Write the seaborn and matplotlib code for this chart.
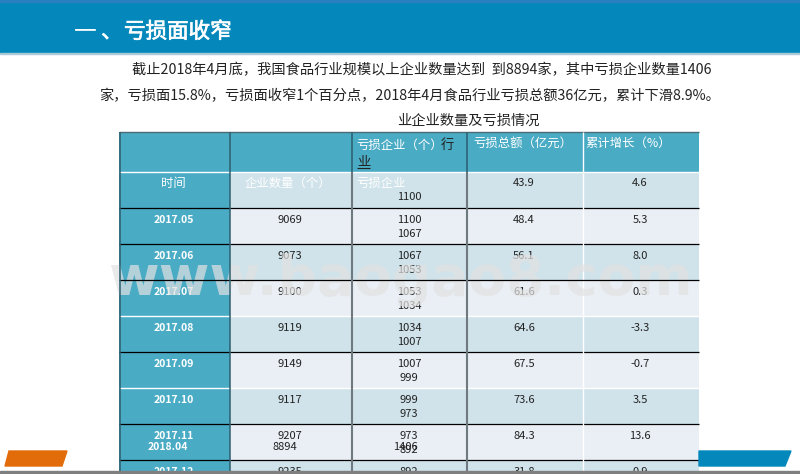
import numpy as np
import matplotlib.pyplot as plt
import matplotlib.patheffects as pe
from matplotlib.colors import ListedColormap
from matplotlib.patches import Polygon, Rectangle
import seaborn as sns

months = ['2017.05', '2017.06', '2017.07', '2017.08', '2017.09', '2017.10', '2017.11', '2017.12']
firms = ['9069', '9073', '9100', '9119', '9149', '9117', '9207', '9235']
loss_firms_a = ['1100', '1067', '1053', '1034', '1007', '999', '973', '892']
loss_firms_b = ['1067', '1053', '1034', '1007', '999', '973', '892', '']
loss_total = ['48.4', '56.1', '61.6', '64.6', '67.5', '73.6', '84.3', '31.8']
growth = ['5.3', '8.0', '0.3', '-3.3', '-0.7', '3.5', '13.6', '0.9']

headers = ['时间', '企业数量（个）', '亏损企业']
headers_top = ['亏损总额（亿元）', '累计增长（%）']
first_row = ['1100', '43.9', '4.6']
apr_row = ['2018.04', '8894', '1406']

para1 = '截止2018年4月底，我国食品行业规模以上企业数量达到  到8894家，其中亏损企业数量1406'
para2 = '家，亏损面15.8%，亏损面收窄1个百分点，2018年4月食品行业亏损总额36亿元，累计下滑8.9%。'

sns.set_theme(style='white')
plt.rcParams['font.family'] = ['Noto Sans CJK SC', 'DejaVu Sans']

col_edges = [119, 230, 351, 467, 583, 699]
row_edges = [132, 172, 208, 244, 280, 316, 352, 388, 424, 460, 496]
col_mid = [174, 285, 409, 524, 640]

# 0 white, 1 teal, 2 dark row, 3 light row
shade = np.full((10, 5), 3)
shade[1::2] = 2
shade[0] = 1
shade[:, 0] = 1

canvas = np.zeros((474, 800), dtype=int)
cells = np.repeat(np.repeat(shade, np.diff(row_edges), axis=0), np.diff(col_edges), axis=1)
canvas[132:474, 119:699] = cells[:342]

fig = plt.figure(figsize=(8, 4.74), dpi=100)
ax = fig.add_axes([0, 0, 1, 1])
sns.heatmap(canvas, ax=ax, cbar=False, xticklabels=False, yticklabels=False,
            cmap=ListedColormap(['#ffffff', '#4aabc5', '#d0e3ea', '#e9eff5']), vmin=0, vmax=3,
            rasterized=True)
ax.set_xlim(0, 800)
ax.set_ylim(474, 0)
ax.axis('off')

# top banner
ax.add_patch(Rectangle((0, 0), 800, 53, color='#0488bb', zorder=2))
ax.add_patch(Rectangle((0, 0), 800, 1.5, color='#2a7fc0', zorder=2))
ax.add_patch(Rectangle((0, 53), 800, 1, color='#a9c8d8', zorder=2))
title_fx = [pe.withStroke(linewidth=0.5, foreground='white')]
ax.text(74, 32, '一', color='white', fontsize=15.5, va='center', zorder=3, path_effects=title_fx)
ax.text(101, 32, '、', color='white', fontsize=15.5, va='center', zorder=3, path_effects=title_fx)
ax.text(124, 32, '亏损面收窄', color='white', fontsize=15.5, va='center', zorder=3, path_effects=title_fx)

ax.text(132, 70, para1, fontsize=10.25, color='#222222', va='center', zorder=3)
ax.text(99, 96, para2, fontsize=10.25, color='#222222', va='center', zorder=3)
ax.text(468, 121, '业企业数量及亏损情况', fontsize=10.25, color='#222222', va='center', ha='center', zorder=3)

# grid lines
white_rules = [172, 316, 388]
black_rules = [208, 244, 352, 424, 460]
ax.hlines(132, 119, 699, color='#4a6a75', lw=1, zorder=3)
ax.hlines(white_rules, 119, 699, color='white', lw=1, zorder=3)
ax.hlines(black_rules, 119, 699, color='black', lw=0.9, zorder=3)
# this rule stays dark through the watermark
ax.hlines(280, 119, 699, color='black', lw=0.9, zorder=7)
ax.vlines([119.5, 230], 132, 471, color='#2f5f6e', lw=1.1, zorder=7)
ax.vlines([351.5, 467], 172, 471, color='#6f7a80', lw=1.5, zorder=7)
ax.vlines([351.5, 467], 132, 172, color='#2f6475', lw=1.2, zorder=7)
ax.vlines(583, 132, 471, color='white', lw=1, zorder=3)

# header text
ax.text(173.5, 183, headers[0], color='white', fontsize=8.9, ha='center', va='center', zorder=5)
ax.text(287.5, 183, headers[1], color='white', fontsize=8.9, ha='center', va='center', zorder=5)
ax.text(356, 183, headers[2], color='white', fontsize=8.9, va='center', zorder=5)
ax.text(356, 145, '亏损企业（个）', color='white', fontsize=8.9, va='center', zorder=5)
ax.text(441, 145, '行', color='#222222', fontsize=9.6, va='center', zorder=5)
ax.text(357, 162, '业', color='#222222', fontsize=9.6, va='center', zorder=5)
ax.hlines(168, 357, 370, color='#222222', lw=0.8, zorder=5)
ax.text(523, 143, headers_top[0], color='white', fontsize=8.9, ha='center', va='center', zorder=5)
ax.text(628, 143, headers_top[1], color='white', fontsize=8.9, ha='center', va='center', zorder=5)

# first data row
ax.text(col_mid[2], 197, first_row[0], color='#222222', fontsize=8, ha='center', va='center', zorder=5)
ax.text(col_mid[3], 183, first_row[1], color='#222222', fontsize=8, ha='center', va='center', zorder=5)
ax.text(col_mid[4], 183, first_row[2], color='#222222', fontsize=8, ha='center', va='center', zorder=5)

# body rows
for i, month in enumerate(months):
    y = 220 + 36 * i
    ax.text(col_mid[0], y, month, color='white', fontsize=7.5, fontweight='bold', ha='center', va='center', zorder=5)
    ax.text(col_mid[1] + 5, y, firms[i], color='#222222', fontsize=8, ha='center', va='center', zorder=5)
    ax.text(col_mid[2], y, loss_firms_a[i], color='#222222', fontsize=8, ha='center', va='center', zorder=5)
    ax.text(col_mid[2], y + 14, loss_firms_b[i], color='#222222', fontsize=8, ha='center', va='center', zorder=5)
    ax.text(col_mid[3], y, loss_total[i], color='#222222', fontsize=8, ha='center', va='center', zorder=5)
    ax.text(col_mid[4], y, growth[i], color='#222222', fontsize=8, ha='center', va='center', zorder=5)

# april row sits over the 2017.11 row
ax.text(168, 447, apr_row[0], color='white', fontsize=7.5, fontweight='bold', ha='center', va='center', zorder=5)
ax.text(285, 447, apr_row[1], color='#222222', fontsize=8, ha='center', va='center', zorder=5)
ax.text(405, 447, apr_row[2], color='#222222', fontsize=8, ha='center', va='center', zorder=5)

# watermark
ax.text(400, 280, 'www.baogao8.com', color='#e2e2e2', alpha=0.7, fontsize=39.5, fontweight='bold',
        family='DejaVu Sans', ha='center', va='center', zorder=6)

# footer shapes
ax.add_patch(Polygon([[9, 451], [67, 451], [62, 466], [5, 466]], color='#e36c0a', zorder=7))
ax.add_patch(Polygon([[699, 451], [791, 451], [785, 466], [699, 466]], color='#0488bb', zorder=7))
ax.add_patch(Rectangle((0, 471), 800, 3, color='#7f7f7f', zorder=8))

fig.savefig('out.png', dpi=100)
